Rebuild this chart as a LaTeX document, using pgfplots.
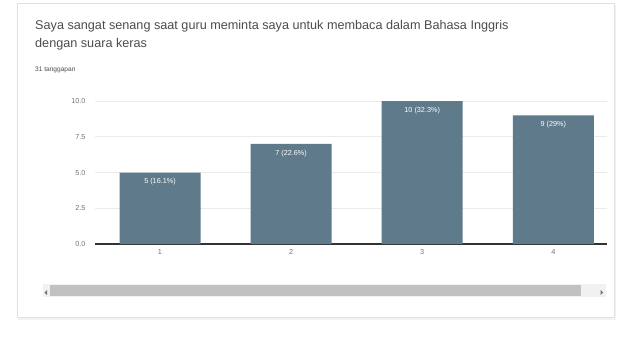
\documentclass[border=0pt]{standalone}
\usepackage{fontspec}
\setmainfont{Liberation Sans}
\usepackage{pgfplots}
\pgfplotsset{compat=1.18}
\definecolor{barc}{HTML}{5E7A8B}
\definecolor{titlec}{HTML}{4A4D50}
\definecolor{tickc}{HTML}{70757A}
\definecolor{gridc}{HTML}{EBEBEB}
\definecolor{thumbc}{HTML}{C1C1C1}
\definecolor{trackc}{HTML}{F1F1F1}
\begin{document}
\begin{tikzpicture}[x=1bp,y=-1bp]
\path[use as bounding box] (0,0) rectangle (629,338);
\fill[black!5] (18,5) rectangle (615.5,319.5);
\filldraw[fill=white,draw=black!12,line width=0.6bp] (17,3) rectangle (614,317);
\node[anchor=base west,inner sep=0,text=titlec,font=\fontsize{12.7}{14}\selectfont] at (35,29.5) {Saya sangat senang saat guru meminta saya untuk membaca dalam Bahasa Inggris};
\node[anchor=base west,inner sep=0,text=titlec,font=\fontsize{12.7}{14}\selectfont] at (35,47.5) {dengan suara keras};
\node[anchor=base west,inner sep=0,text=titlec,font=\fontsize{6.6}{7}\selectfont] at (35,71) {31 tanggapan};
% scrollbar
\fill[trackc] (43,284) rectangle (606,297);
\fill[thumbc] (50,285) rectangle (581,296);
\fill[black!55] (44.5,292.5) -- (47,290) -- (47,295) -- cycle;
\fill[black!55] (603,292.5) -- (600.5,290) -- (600.5,295) -- cycle;
\begin{axis}[
  at={(95bp,-244bp)}, anchor=south west,
  scale only axis, width=512bp, height=143bp,
  xmin=0.504, xmax=4.41, ymin=0, ymax=10,
  ybar, bar width=81bp, bar shift=0pt,
  xtick={1,2,3,4}, ytick={0,2.5,5,7.5,10},
  /pgf/number format/fixed,
  /pgf/number format/assume math mode=true,
  yticklabel={\pgfmathprintnumber[fixed,fixed zerofill,precision=1]{\tick}},
  ticklabel style={font=\fontsize{7.3}{8}\selectfont, text=tickc},
  yticklabel style={xshift=-6bp},
  xticklabel style={yshift=-2bp},
  major tick length=0pt,
  axis x line*=bottom, axis y line*=left,
  y axis line style={draw=none},
  x axis line style={draw=black!80,line width=1.1bp},
  ymajorgrids, grid style={gridc,line width=0.6bp},
  nodes near coords, point meta=explicit symbolic,
  nodes near coords style={anchor=north,text=white,font=\fontsize{7.3}{8}\selectfont,yshift=-2.5bp},
  clip=false,
]
\addplot[fill=barc,draw=none] table[x=x,y=y,meta=label] {
x y label
1 5 {5 (16.1\%)}
2 7 {7 (22.6\%)}
3 10 {10 (32.3\%)}
4 9 {9 (29\%)}
};
\end{axis}
\end{tikzpicture}
\end{document}
